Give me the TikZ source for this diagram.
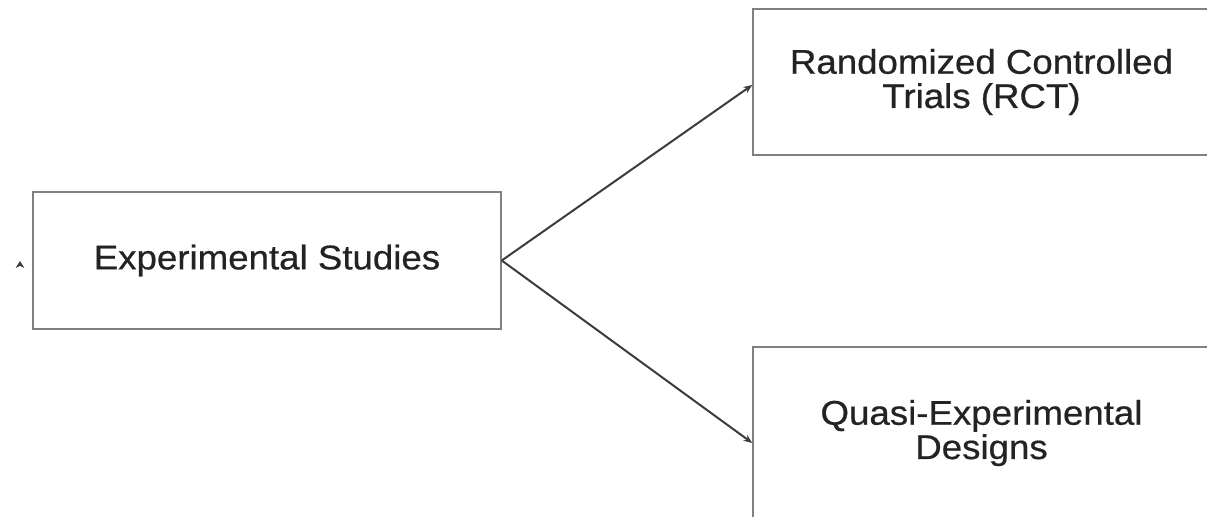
\documentclass[tikz,border=0pt]{standalone}
\usepackage{fontspec}
\setmainfont{Liberation Sans}
\newfontfamily\boxfont[FakeStretch=1.07,FakeBold=0.6]{Liberation Sans}
\usepackage{tikz}
\usetikzlibrary{arrows.meta}

\definecolor{boxgray}{RGB}{128,128,128}
\definecolor{linkgray}{RGB}{60,60,60}
\definecolor{textgray}{RGB}{35,35,35}

\begin{document}
\begin{tikzpicture}[
   studybox/.style={
      draw=boxgray,
      line width=0.03cm,
      rectangle,
      align=center,
      text=textgray,
      font=\boxfont\fontsize{19.5}{19.5}\selectfont,
      inner sep=0pt
   },
   link/.style={
      draw=linkgray,
      line width=0.04cm,
      -{Stealth[length=5pt,width=4pt]}
   }
]
   \clip (0,0) rectangle (24.14,-10.34);

   \node[studybox, minimum width=9.36cm, minimum height=2.74cm] (exp)
      at (5.34,-5.21) {Experimental Studies};

   \node[studybox, minimum width=9.14cm, minimum height=2.92cm] (rct)
      at (19.63,-1.64) {Randomized Controlled\\Trials (RCT)};

   \node[studybox, minimum width=9.14cm, minimum height=3.44cm] (qed)
      at (19.63,-8.66) {Quasi-Experimental\\Designs};

   \coordinate (stray) at (0.40,-5.22);

   \draw[link] (exp.east) -- ([yshift=-0.06cm]rct.west);
   \draw[link] (exp.east) -- ([yshift=-0.2cm]qed.west);

   % small mark left of the first box
   \draw[draw=linkgray, -{Stealth[length=4pt,width=5pt]}]
      ([yshift=-0.02cm]stray) -- (stray);

\end{tikzpicture}
\end{document}
